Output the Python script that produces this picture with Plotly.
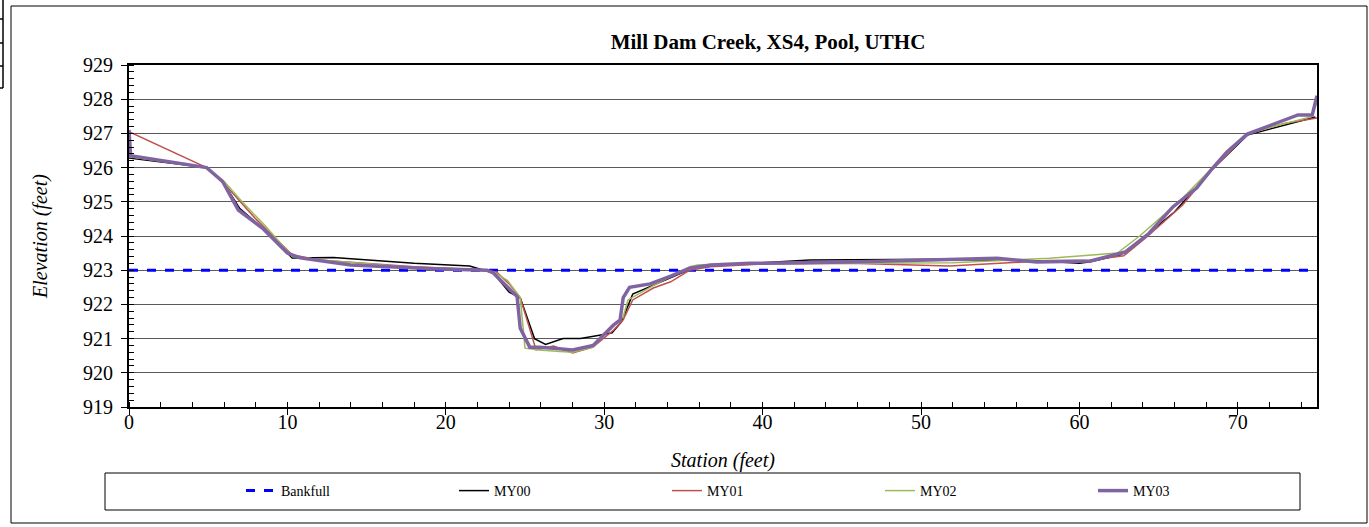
import plotly.graph_objects as go

# Cross-section survey data: station (ft) vs. elevation (ft)
bankfull_station = [0, 75]
bankfull_elev = [923.0, 923.0]

my00_station = [0, 4.9, 5.9, 7.0, 8.5, 9.5, 10.3, 12.9, 18.0, 21.5, 23.0, 24.0, 24.7,
                25.6, 26.3, 27.4, 28.5, 29.7, 30.5, 31.1, 31.8, 33.3, 35.0, 35.8, 37.6,
                43.0, 51.0, 54.8, 57.0, 60.0, 60.7, 62.6, 64.0, 66.0, 68.4, 70.6, 74.9]
my00_elev = [926.28, 926.0, 925.6, 924.8, 924.2, 923.75, 923.36, 923.37, 923.2, 923.12,
             922.92, 922.36, 922.19, 921.0, 920.83, 921.0, 921.0, 921.1, 921.17, 921.5,
             922.3, 922.6, 922.95, 923.1, 923.15, 923.3, 923.32, 923.3, 923.28, 923.2,
             923.25, 923.45, 923.94, 924.7, 925.95, 926.95, 927.48]

my01_station = [0, 4.9, 6.2, 8.0, 10.3, 12.0, 18.0, 22.0, 23.2, 24.0, 24.7, 25.7, 26.8,
                28.0, 29.3, 30.6, 31.2, 31.8, 33.1, 34.2, 35.4, 36.7, 40.0, 45.5, 51.8,
                54.8, 58.0, 60.5, 62.8, 64.2, 66.5, 68.5, 70.6, 73.0, 75.0]
my01_elev = [927.05, 926.0, 925.43, 924.5, 923.45, 923.3, 923.1, 923.02, 922.95, 922.6,
             922.2, 920.67, 920.78, 920.58, 920.75, 921.25, 921.55, 922.13, 922.48,
             922.66, 923.0, 923.1, 923.18, 923.2, 923.12, 923.2, 923.28, 923.28, 923.42,
             923.95, 924.9, 926.0, 926.98, 927.3, 927.45]

my02_station = [0, 4.9, 6.0, 7.2, 8.6, 10.3, 12.0, 18.0, 22.0, 23.0, 23.9, 24.7, 25.0,
                25.9, 27.2, 28.0, 29.3, 30.6, 31.2, 31.5, 33.1, 35.4, 35.9, 38.0, 45.5,
                52.0, 58.1, 62.4, 63.8, 66.4, 68.4, 70.6, 74.6, 75.0]
my02_elev = [926.32, 926.0, 925.6, 924.97, 924.3, 923.4, 923.3, 923.08, 923.02, 922.95,
             922.7, 922.2, 920.72, 920.67, 920.62, 920.6, 920.75, 921.4, 921.63, 922.13,
             922.55, 923.1, 923.15, 923.18, 923.2, 923.22, 923.35, 923.5, 924.0, 925.05,
             926.0, 927.0, 927.48, 927.9]

my03_station = [0, 0.1, 4.9, 5.9, 6.9, 8.5, 10.0, 10.8, 14.0, 19.2, 22.6, 23.0, 24.5,
                24.7, 25.3, 25.9, 26.8, 28.0, 29.3, 30.6, 31.0, 31.2, 31.6, 32.9, 34.2,
                35.4, 36.7, 39.2, 45.5, 50.0, 54.8, 57.3, 60.7, 62.9, 64.4, 65.9, 67.4,
                68.4, 69.3, 70.6, 71.8, 73.8, 74.7, 75.0]
my03_elev = [927.1, 926.35, 926.0, 925.6, 924.76, 924.2, 923.5, 923.36, 923.15, 923.04,
             923.0, 922.92, 922.23, 921.3, 920.75, 920.75, 920.72, 920.67, 920.8, 921.4,
             921.54, 922.2, 922.5, 922.6, 922.83, 923.06, 923.15, 923.2, 923.24, 923.3,
             923.35, 923.24, 923.27, 923.53, 924.08, 924.85, 925.4, 925.98, 926.45,
             926.98, 927.19, 927.54, 927.54, 928.1]

FONT = "Liberation Serif, Times New Roman, serif"

# plot-area geometry in pixels, used to place paper-referenced decorations
W, H = 1369, 527
L, R, T, B = 129, 1317, 65, 407


def px2x(px):
    return (px - L) / (R - L)


def py2y(py):
    return (B - py) / (B - T)


fig = go.Figure()
fig.add_trace(go.Scatter(x=bankfull_station, y=bankfull_elev, mode="lines", name="Bankfull",
                         line=dict(color="#0000ff", width=3, dash="dash")))
fig.add_trace(go.Scatter(x=my00_station, y=my00_elev, mode="lines", name="MY00",
                         line=dict(color="#000000", width=1.5)))
fig.add_trace(go.Scatter(x=my01_station, y=my01_elev, mode="lines", name="MY01",
                         line=dict(color="#c0504d", width=1.5)))
fig.add_trace(go.Scatter(x=my02_station, y=my02_elev, mode="lines", name="MY02",
                         line=dict(color="#9bbb59", width=1.5)))
fig.add_trace(go.Scatter(x=my03_station, y=my03_elev, mode="lines", name="MY03",
                         line=dict(color="#8064a2", width=3.5)))

shapes = [
    # outer chart frame
    dict(type="rect", xref="paper", yref="paper", x0=px2x(11), x1=px2x(1367),
         y0=py2y(523), y1=py2y(6), line=dict(color="#000000", width=1)),
    # legend frame
    dict(type="rect", xref="paper", yref="paper", x0=px2x(105), x1=px2x(1300),
         y0=py2y(510), y1=py2y(473), line=dict(color="#000000", width=1)),
    # partial axis fragment at the top-left edge
    dict(type="line", xref="paper", yref="paper", x0=px2x(3), x1=px2x(3),
         y0=py2y(88), y1=py2y(0), line=dict(color="#000000", width=1.5)),
]
for ty in [19, 43, 66, 88]:
    shapes.append(dict(type="line", xref="paper", yref="paper", x0=px2x(0), x1=px2x(3),
                       y0=py2y(ty), y1=py2y(ty), line=dict(color="#000000", width=1.5)))

fig.update_layout(
    width=W, height=H,
    margin=dict(l=L, r=W - R, t=T, b=H - B, pad=0),
    paper_bgcolor="white", plot_bgcolor="white",
    font=dict(family=FONT, color="#000000"),
    title=dict(text="<b>Mill Dam Creek, XS4, Pool, UTHC</b>", x=768 / W, xref="container",
               xanchor="center", y=1 - 42 / H, yref="container", yanchor="middle",
               font=dict(family=FONT, size=21, color="#000000")),
    xaxis=dict(range=[0, 75], tick0=0, dtick=10, showgrid=False, zeroline=False,
               showline=True, linecolor="#000000", linewidth=2, mirror=True,
               ticks="outside", ticklen=6, tickcolor="#000000", tickwidth=1,
               ticklabelstandoff=-10,
               minor=dict(dtick=2, ticks="inside", ticklen=5, tickcolor="#000000",
                          showgrid=False),
               tickfont=dict(family=FONT, size=20),
               title=dict(text="<i>Station (feet)</i>", font=dict(family=FONT, size=20),
                          standoff=21)),
    yaxis=dict(range=[919, 929], tick0=919, dtick=1, showgrid=True, gridcolor="#5a5a5a",
               gridwidth=1.2, zeroline=False,
               showline=True, linecolor="#000000", linewidth=2, mirror=True,
               ticks="outside", ticklen=6, tickcolor="#000000", tickwidth=1,
               ticklabelstandoff=4,
               minor=dict(dtick=0.2, ticks="inside", ticklen=5, tickcolor="#000000",
                          showgrid=False),
               tickfont=dict(family=FONT, size=20),
               title=dict(text="<i>Elevation (feet)</i>", font=dict(family=FONT, size=20),
                          standoff=30)),
    legend=dict(orientation="h", x=px2x(241), xanchor="left", y=py2y(491),
                yanchor="middle", entrywidth=168, entrywidthmode="pixels",
                bgcolor="rgba(0,0,0,0)", borderwidth=0,
                font=dict(family=FONT, size=14, color="#000000")),
    showlegend=True,
    shapes=shapes,
)

fig.write_html("out.html")
